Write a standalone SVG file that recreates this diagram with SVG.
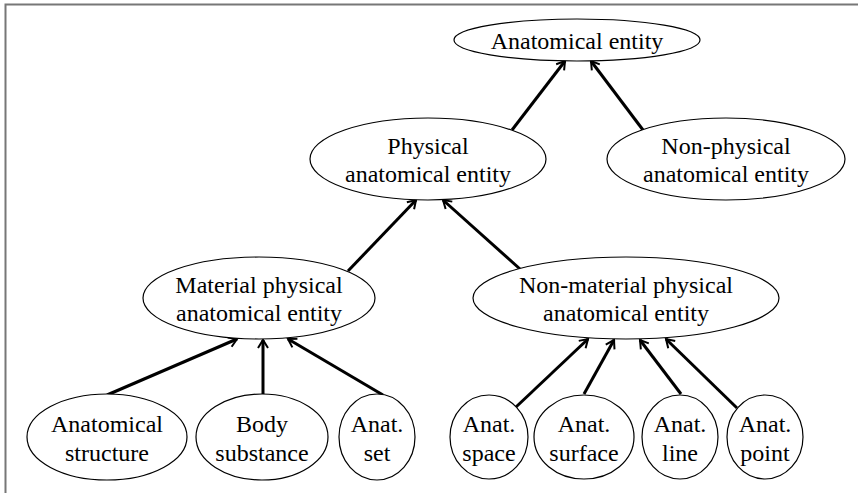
<svg xmlns="http://www.w3.org/2000/svg" width="858" height="493" viewBox="0 0 858 493">
<style>
.node ellipse{fill:#fff;stroke:#000;stroke-width:1.2}
.node text{font-family:"Liberation Serif","Times New Roman",serif;font-size:24px;fill:#000;text-anchor:middle}
.edges line{stroke:#000;stroke-width:3;marker-end:url(#arr)}
</style>
<defs>
<marker id="arr" markerUnits="userSpaceOnUse" markerWidth="14" markerHeight="14" viewBox="0 0 14 14" refX="12" refY="7" orient="auto">
<path d="M4,2 L12,7 L4,12" fill="none" stroke="#000" stroke-width="2"/>
</marker>
</defs>
<rect width="858" height="493" fill="#fff"/>
<path d="M5.5,493 V4.5 H858" fill="none" stroke="#777" stroke-width="2"/>
<g class="edges">
<line x1="512" y1="130" x2="565" y2="61"/>
<line x1="643" y1="130" x2="591" y2="61"/>
<line x1="348" y1="271" x2="416" y2="200"/>
<line x1="520" y1="269" x2="443" y2="200"/>
<line x1="107" y1="395" x2="237" y2="339"/>
<line x1="263" y1="394" x2="263" y2="340"/>
<line x1="383" y1="395" x2="288" y2="339"/>
<line x1="516" y1="407" x2="588" y2="339"/>
<line x1="584" y1="394" x2="614" y2="340"/>
<line x1="681" y1="394" x2="640" y2="340"/>
<line x1="737" y1="408" x2="666" y2="339"/>
</g>
<g id="n_anatomical_entity" class="node"><ellipse cx="577" cy="40" rx="123" ry="21"/><text x="577" y="49">Anatomical entity</text></g>
<g id="n_physical" class="node"><ellipse cx="428" cy="159" rx="118" ry="41"/><text x="428" y="154">Physical</text><text x="428" y="182">anatomical entity</text></g>
<g id="n_nonphysical" class="node"><ellipse cx="726" cy="159" rx="119" ry="41"/><text x="726" y="154">Non-physical</text><text x="726" y="182">anatomical entity</text></g>
<g id="n_material" class="node"><ellipse cx="259" cy="298" rx="116" ry="41"/><text x="259" y="293">Material physical</text><text x="259" y="321">anatomical entity</text></g>
<g id="n_nonmaterial" class="node"><ellipse cx="626" cy="298" rx="153" ry="41"/><text x="626" y="293">Non-material physical</text><text x="626" y="321">anatomical entity</text></g>
<g id="n_structure" class="node"><ellipse cx="107" cy="437" rx="80" ry="43"/><text x="107" y="432">Anatomical</text><text x="107" y="461">structure</text></g>
<g id="n_substance" class="node"><ellipse cx="262" cy="437" rx="66" ry="43"/><text x="262" y="432">Body</text><text x="262" y="461">substance</text></g>
<g id="n_set" class="node"><ellipse cx="377" cy="437" rx="38" ry="43"/><text x="377" y="432">Anat.</text><text x="377" y="461">set</text></g>
<g id="n_space" class="node"><ellipse cx="489" cy="437" rx="39" ry="42"/><text x="489" y="432">Anat.</text><text x="489" y="461">space</text></g>
<g id="n_surface" class="node"><ellipse cx="584" cy="437" rx="50" ry="42"/><text x="584" y="432">Anat.</text><text x="584" y="461">surface</text></g>
<g id="n_line" class="node"><ellipse cx="680" cy="437" rx="38" ry="42"/><text x="680" y="432">Anat.</text><text x="680" y="461">line</text></g>
<g id="n_point" class="node"><ellipse cx="765" cy="437" rx="38" ry="42"/><text x="765" y="432">Anat.</text><text x="765" y="461">point</text></g>
</svg>
